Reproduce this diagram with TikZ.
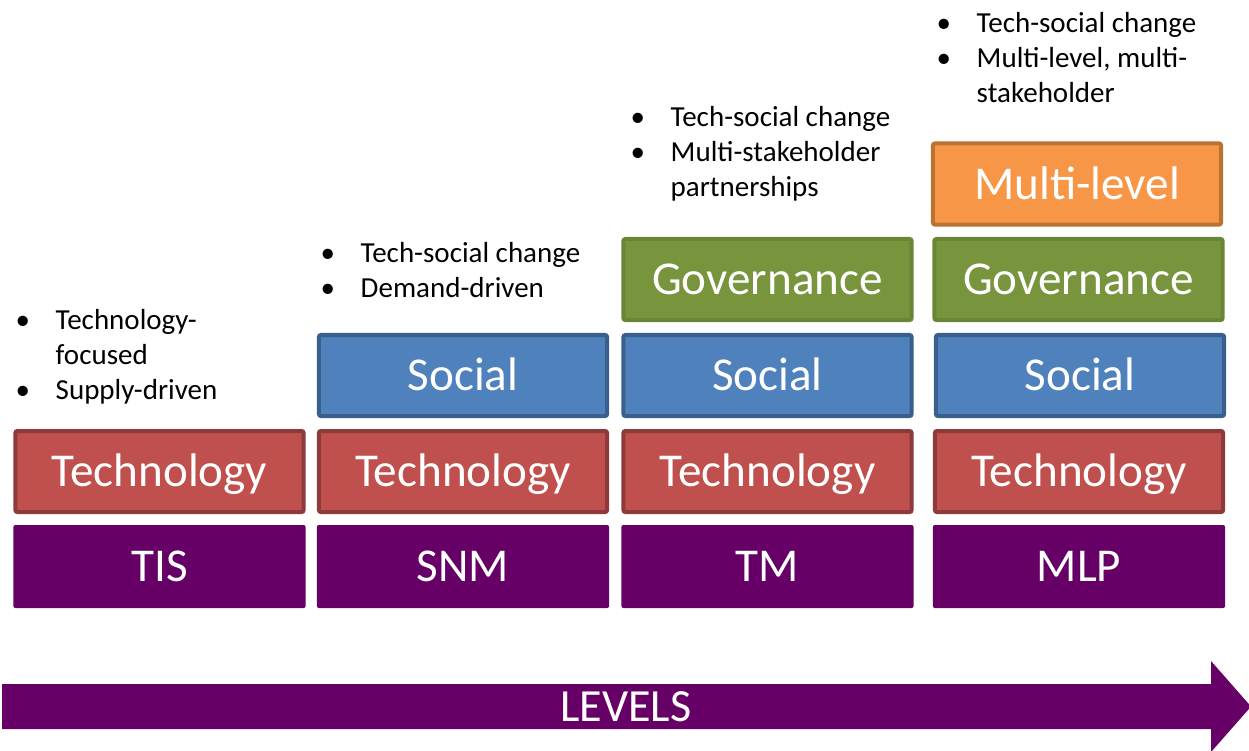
\documentclass[tikz,border=0pt]{standalone}
\usepackage{fontspec}
\setmainfont{Carlito}
\usepackage{array}
\usetikzlibrary{positioning}

\definecolor{modelpurple}{HTML}{660066}
\definecolor{techfill}{HTML}{C0504D}
\definecolor{techline}{HTML}{8C3A3B}
\definecolor{socialfill}{HTML}{4F81BD}
\definecolor{socialline}{HTML}{3A5F8B}
\definecolor{govfill}{HTML}{78943D}
\definecolor{govline}{HTML}{6B8537}
\definecolor{multifill}{HTML}{F79646}
\definecolor{multiline}{HTML}{B97232}

\tikzset{
  layer/.style={rounded corners=0.02cm, line width=0.04cm, inner sep=0pt,
    minimum width=2.88cm, minimum height=0.81cm, text=white,
    font=\fontsize{13.4pt}{16pt}\selectfont, text height=0.3cm, text depth=0cm},
  modelbox/.style={layer, fill=modelpurple, draw=none, minimum width=2.92cm, minimum height=0.83cm},
  techbox/.style={layer, fill=techfill, draw=techline},
  socialbox/.style={layer, fill=socialfill, draw=socialline},
  govbox/.style={layer, fill=govfill, draw=govline},
  multibox/.style={layer, fill=multifill, draw=multiline},
  note/.style={anchor=base west, inner sep=0pt, font=\fontsize{8.25pt}{9.96pt}\selectfont}
}
\newcommand{\notelist}[1]{\begin{tabular}[t]{@{}p{0.4cm}@{}l@{}}#1\end{tabular}}

\begin{document}
\begin{tikzpicture}[x=0.01cm, y=-0.01cm]
            \useasboundingbox (0,0) rectangle (1249,750);
            \clip (0,0) rectangle (1249,750);
            % models
            \node[modelbox] (tis) at (159.5,566.5) {TIS};
            \node[modelbox] (snm) at (463,566.5) {SNM};
            \node[modelbox] (tm) at (767.5,566.5) {TM};
            \node[modelbox] (mlp) at (1079,566.5) {MLP};
            % layers
            \node[techbox] (tistech) at (159.5,471.5) {Technology};
            \node[techbox] (snmtech) at (463,471.5) {Technology};
            \node[techbox] (tmtech) at (767.5,471.5) {Technology};
            \node[techbox] (mlptech) at (1079,471.5) {Technology};
            \node[socialbox] (snmsocial) at (463,375.5) {Social};
            \node[socialbox] (tmsocial) at (767.5,375.5) {Social};
            \node[socialbox] (mlpsocial) at (1080,375.5) {Social};
            \node[govbox] (tmgov) at (767.5,279.5) {Governance};
            \node[govbox] (mlpgov) at (1078.5,279.5) {Governance};
            \node[multibox] (mlpmulti) at (1077,184) {Multi-level};
            % notes
            \node[note] (tisnote) at (15,329) {\notelist{\textbullet & Technology-\\ & focused\\ \textbullet & Supply-driven}};
            \node[note] (snmnote) at (320,262) {\notelist{\textbullet & Tech-social change\\ \textbullet & Demand-driven}};
            \node[note] (tmnote) at (630,126) {\notelist{\textbullet & Tech-social change\\ \textbullet & Multi-stakeholder\\ & partnerships}};
            \node[note] (mlpnote) at (936,32) {\notelist{\textbullet & Tech-social change\\ \textbullet & Multi-level, multi-\\ & stakeholder}};
            % levels arrow
            \fill[modelpurple] (2,684) -- (1211,684) -- (1211,661) -- (1251,706.5)
              -- (1211,752) -- (1211,729) -- (2,729) -- cycle;
            \node[text=white, font=\fontsize{13.1pt}{16pt}\selectfont, text height=0.3cm,
              text depth=0cm, inner sep=0pt] (levels) at (626,706.5) {LEVELS};
          \end{tikzpicture}
\end{document}
